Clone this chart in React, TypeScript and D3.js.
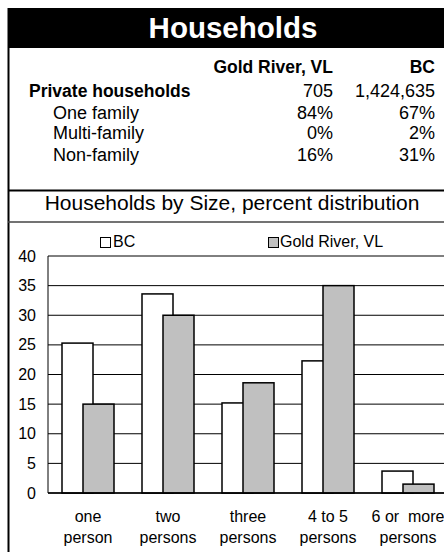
import * as d3 from 'd3';

const categories = ['one\nperson', 'two\npersons', 'three\npersons', '4 to 5\npersons', '6 or  more\npersons'];
const bcValues = [25.3, 33.6, 15.2, 22.3, 3.7];
const goldRiverValues = [15.0, 30.0, 18.6, 35.0, 1.5];
const yTicks = [0, 5, 10, 15, 20, 25, 30, 35, 40];

const tableHeader = ['Gold River, VL', 'BC'];
const tableRows = [
  { label: 'Private households', gr: '705', bc: '1,424,635', bold: true },
  { label: 'One family', gr: '84%', bc: '67%', bold: false },
  { label: 'Multi-family', gr: '0%', bc: '2%', bold: false },
  { label: 'Non-family', gr: '16%', bc: '31%', bold: false },
];

const FONT = '"Liberation Sans", Arial, sans-serif';

export default function App() {
  const width = 444;
  const height = 552;

  // plot area
  const x = d3.scaleBand<number>().domain(d3.range(categories.length)).range([48, 448]);
  const y = d3.scaleLinear().domain([0, 40]).range([493, 256]);
  const barW = 31;
  const shift = 21;

  const rowY = [97, 119, 139, 161];

  return (
    <div style={{ position: 'fixed', left: 0, top: 0 }}>
      <svg width={width} height={height} style={{ display: 'block', background: '#fff', fontFamily: FONT }}>
        {/* panel frame */}
        <rect x={8} y={8} width={460} height={40} fill="#000" />
        <line x1={8.5} y1={8} x2={8.5} y2={552} stroke="#000" strokeWidth={2} />
        <text x={233} y={37.5} textAnchor="middle" fill="#fff" fontWeight="bold" fontSize={29.5}>
          Households
        </text>

        {/* table */}
        <text x={333} y={73} textAnchor="end" fontWeight="bold" fontSize={17.5}>{tableHeader[0]}</text>
        <text x={435} y={73} textAnchor="end" fontWeight="bold" fontSize={17.5}>{tableHeader[1]}</text>
        {tableRows.map((r, i) => (
          <g key={r.label} fontSize={18}>
            <text x={r.bold ? 29 : 53} y={rowY[i]} fontWeight={r.bold ? 'bold' : 'normal'} fontSize={r.bold ? 17.5 : 18}>
              {r.label}
            </text>
            <text x={333} y={rowY[i]} textAnchor="end">{r.gr}</text>
            <text x={435} y={rowY[i]} textAnchor="end">{r.bc}</text>
          </g>
        ))}

        <line x1={8} y1={190.5} x2={444} y2={190.5} stroke="#000" strokeWidth={2} />
        <text x={232} y={210} textAnchor="middle" fontSize={21}>
          Households by Size, percent distribution
        </text>
        <line x1={8} y1={222} x2={444} y2={222} stroke="#444" strokeWidth={1.5} />

        {/* legend */}
        <rect x={100.5} y={237.5} width={10} height={10} fill="#fff" stroke="#000" strokeWidth={1} />
        <text x={113} y={247} fontSize={16}>BC</text>
        <rect x={268.5} y={237.5} width={10} height={10} fill="#c0c0c0" stroke="#000" strokeWidth={1} />
        <text x={280} y={247} fontSize={16}>Gold River, VL</text>

        {/* gridlines and y axis */}
        {yTicks.map((t) => (
          <g key={t}>
            <line x1={48} x2={448} y1={y(t)} y2={y(t)} stroke="#000" strokeWidth={1} />
            <text x={36} y={y(t)} dy="0.35em" textAnchor="end" fontSize={16}>{t}</text>
          </g>
        ))}
        <line x1={48} x2={48} y1={y(40)} y2={y(0)} stroke="#000" strokeWidth={1} />

        {/* bars */}
        {categories.map((c, i) => {
          const cx = (x(i) ?? 0) + x.bandwidth() / 2;
          const x0 = cx - (barW + shift) / 2;
          return (
            <g key={c}>
              <rect x={x0} y={y(bcValues[i])} width={barW} height={y(0) - y(bcValues[i])}
                fill="#fff" stroke="#000" strokeWidth={1.5} />
              <rect x={x0 + shift} y={y(goldRiverValues[i])} width={barW} height={y(0) - y(goldRiverValues[i])}
                fill="#c0c0c0" stroke="#000" strokeWidth={1.5} />
              {c.split('\n').map((line, k) => (
                <text key={k} x={cx} y={522 + k * 21} textAnchor="middle" fontSize={16} style={{ whiteSpace: 'pre' }}>
                  {line}
                </text>
              ))}
            </g>
          );
        })}
        <line x1={48} x2={448} y1={y(0)} y2={y(0)} stroke="#000" strokeWidth={1.5} />
      </svg>
    </div>
  );
}
